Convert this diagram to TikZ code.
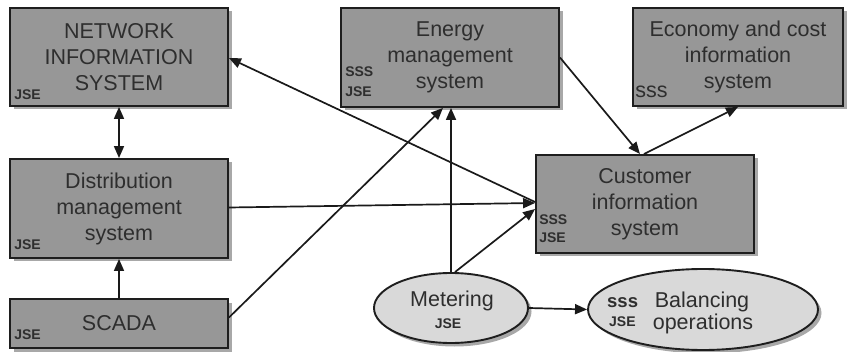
\documentclass[tikz,border=0pt]{standalone}
\usepackage{fontspec}
\setmainfont{Liberation Sans}
\usetikzlibrary{arrows.meta,shadows,shapes.geometric}
\definecolor{boxgray}{HTML}{979797}
\definecolor{ovalgray}{HTML}{D9D9D9}
\definecolor{edgecol}{HTML}{1E1E1E}
\definecolor{txtcol}{HTML}{2E2E2E}
\definecolor{shadowcol}{HTML}{A8A8A8}
\definecolor{linecol}{HTML}{1A1A1A}
\begin{document}
\begin{tikzpicture}[x=1pt,y=-1pt,
  >={Triangle[length=12pt,width=10pt]},
  sysbox/.style={draw=edgecol, line width=1.9pt, fill=boxgray, align=center,
    inner sep=0pt, text=txtcol, font=\fontsize{21.5}{26}\selectfont,
    drop shadow={shadow xshift=3.5pt, shadow yshift=-3.5pt, fill=shadowcol, opacity=1}},
  oval/.style={ellipse, draw=edgecol, line width=1.9pt, fill=ovalgray, inner sep=0pt,
    drop shadow={shadow xshift=3.5pt, shadow yshift=-3.5pt, fill=shadowcol, opacity=1}},
  tag/.style={font=\bfseries\fontsize{14}{14}\selectfont, text=txtcol, inner sep=0pt, anchor=base west},
  plain/.style={font=\fontsize{21.5}{26}\selectfont, text=txtcol, inner sep=0pt, anchor=base},
  link/.style={line width=1.7pt, draw=linecol},
]
\useasboundingbox (0,0) rectangle (850,352);

% system boxes
\node[sysbox, minimum width=218pt, minimum height=98pt] (nis) at (119,57)
  {NETWORK\\INFORMATION\\SYSTEM};
\node[sysbox, minimum width=218pt, minimum height=99pt] (ems) at (450,57.5)
  {Energy\\management\\system};
\node[sysbox, minimum width=210pt, minimum height=98pt] (econ) at (738,57)
  {Economy and cost\\information\\system};
\node[sysbox, minimum width=218pt, minimum height=99pt] (dist) at (119,208.5)
  {Distribution\\management\\system};
\node[sysbox, minimum width=218pt, minimum height=49pt] (scada) at (119,323.5)
  {SCADA};
\node[sysbox, minimum width=218pt, minimum height=98pt] (cis) at (645,204)
  {Customer\\information\\system};

% operation ovals
\node[oval, minimum width=154pt, minimum height=70pt] (meter) at (451,308) {};
\node[oval, minimum width=230pt, minimum height=81pt] (bal) at (703,309.5) {};

% organisation tags
\node[tag] (nisj) at ([xshift=5pt,yshift=7pt]nis.south west) {JSE};
\node[tag] (emsj) at ([xshift=5pt,yshift=11pt]ems.south west) {JSE};
\node[tag] (emss) at ([xshift=5pt,yshift=31pt]ems.south west) {SSS};
\node[plain, anchor=base west] (econs) at ([xshift=3pt,yshift=9pt]econ.south west) {sss};
\node[tag] (distj) at ([xshift=5pt,yshift=9pt]dist.south west) {JSE};
\node[tag] (scadaj) at ([xshift=5pt,yshift=9pt]scada.south west) {JSE};
\node[tag] (cisj) at ([xshift=4pt,yshift=11pt]cis.south west) {JSE};
\node[tag] (ciss) at ([xshift=4pt,yshift=29pt]cis.south west) {SSS};

% oval texts
\node[plain] (metert) at (452,306) {Metering};
\node[tag, anchor=base] (meterj) at (448,328) {JSE};
\node[plain, anchor=base west, font=\bfseries\fontsize{18.5}{20}\selectfont] (bals) at (607,307) {sss};
\node[tag] (balj) at (609,326) {JSE};
\node[plain] (balt1) at (702,307) {Balancing};
\node[plain] (balt2) at (703,329) {operations};

% information flows
\draw[link,<->] (nis.south) -- (dist.north);
\draw[link,->] (scada.north) -- (dist.south);
\draw[link,->] ([yshift=2pt]cis.west) -- ([yshift=-1pt]nis.east);
\draw[link,->] ([yshift=1pt]dist.east) -- ([yshift=1pt]cis.west);
\draw[link,->] ([xshift=4pt]meter.north) -- ([yshift=-5pt]cis.west);
\draw[link,->] ([yshift=6pt]scada.east) -- ([xshift=-7pt]ems.south);
\draw[link,->] (meter.north) -- (meter.north |- ems.south);
\draw[link,->] (ems.east) -- ([xshift=-5pt]cis.north);
\draw[link,->] ([xshift=-1pt]cis.north) -- (econ.south);
\draw[link,->] (meter.east) -- (bal.west);
\end{tikzpicture}
\end{document}
